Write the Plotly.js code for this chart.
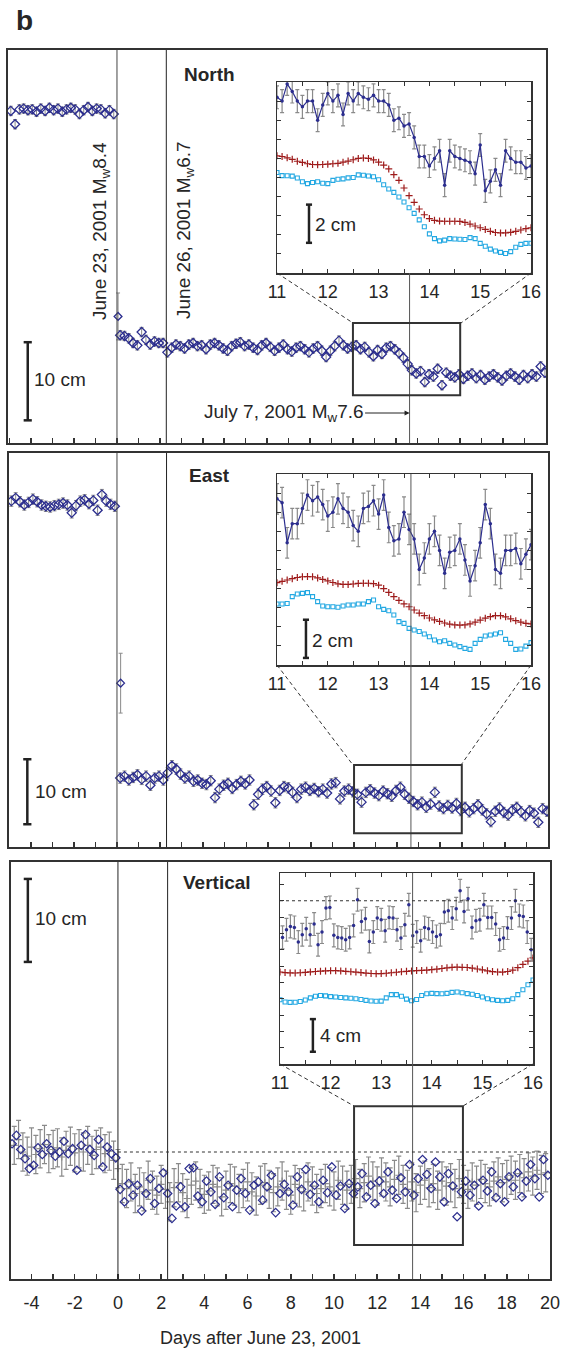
<!DOCTYPE html>
<html><head><meta charset="utf-8">
<script src="https://cdn.plot.ly/plotly-3.0.1.min.js"></script>
<style>body{margin:0;background:#fff}#chart{width:564px;height:1350px}</style>
</head><body><div id="chart"></div>
<script>
// ---------------- DATA (cm; days after June 23, 2001) ----------------
// Main series, sampled every 0.2 day
const northPreX0 = -4.95;
const northPre = [0.1,-1.6,0.3,0.4,0.2,0.3,0.0,0.4,0.1,0.5,0.2,0.4,0.0,0.3,0.5,0.3,-0.3,0.2,0.6,0.1,0.4,0.3,-0.2,0.2,-0.3];
const northJump = {x:0.05, y:-26.2, err:3.0};
const northPostX0 = 0.15;
const northPost = [-28.6,-28.7,-29.0,-29.6,-29.9,-28.2,-29.2,-29.8,-29.4,-29.6,
 -29.6,-30.8,-30.2,-29.8,-30.0,-30.3,-29.8,-29.6,-30.0,-29.9,
 -30.4,-29.8,-29.6,-29.9,-30.3,-30.6,-30.0,-29.7,-29.5,-30.0,
 -29.8,-30.2,-30.5,-29.9,-29.6,-30.1,-30.6,-30.2,-29.8,-30.4,
 -30.7,-30.2,-30.0,-30.4,-30.8,-30.3,-30.0,-30.6,-31.4,-30.6,
 -30.0,-29.3,-29.9,-30.3,-30.1,-29.9,-30.4,-30.1,-30.8,-31.3,
 -30.5,-31.0,-30.2,-30.0,-30.4,-30.9,-31.5,-32.3,-33.1,-33.5,
 -33.2,-34.6,-33.6,-33.9,-32.9,-35.0,-33.4,-33.8,-34.0,-33.6,
 -34.2,-33.8,-33.5,-34.1,-33.7,-34.3,-33.9,-33.6,-34.0,-34.4,
 -33.8,-33.5,-33.9,-34.3,-33.7,-34.1,-33.6,-33.9,-32.6,-33.4];
const northSigma = 0.6;

const eastPreX0 = -4.9;
const eastPre = [0.3,0.8,0.2,-0.3,0.1,0.6,0.2,-0.3,-0.5,-0.6,-0.4,-0.2,0.0,-0.3,-1.5,-0.4,0.3,0.5,-0.1,0.4,-1.1,1.3,0.3,-0.2,-0.5];
const eastJump = {x:0.17, y:-27.7, err:4.6};
const eastPostX0 = 0.15;
const eastPost = [-42.3,-42.0,-42.6,-42.2,-41.8,-42.5,-42.0,-43.4,-42.3,-42.0,
 -42.6,-41.5,-40.4,-40.9,-41.7,-42.3,-42.0,-42.8,-42.6,-43.1,
 -43.3,-42.7,-45.3,-44.0,-43.4,-43.1,-43.9,-43.3,-42.8,-43.2,
 -42.6,-46.4,-44.8,-44.0,-43.6,-44.3,-46.1,-44.2,-43.6,-43.8,
 -44.5,-45.3,-44.0,-43.7,-44.2,-43.9,-44.4,-44.0,-44.6,-43.2,
 -43.0,-45.5,-44.3,-44.0,-44.4,-44.8,-46.0,-44.5,-44.1,-44.6,
 -45.0,-44.3,-44.7,-45.1,-44.2,-43.7,-44.8,-45.4,-45.9,-46.4,
 -46.0,-46.8,-46.3,-44.5,-46.6,-47.0,-46.5,-46.9,-46.2,-47.3,
 -46.8,-47.5,-47.0,-46.4,-47.2,-47.8,-49.0,-47.4,-46.9,-47.6,
 -48.0,-47.2,-46.8,-47.5,-48.1,-47.3,-47.7,-49.1,-47.0,-47.4];
const eastSigma = 0.8;

const vertBlueX0 = -4.9;
const vertBlue = [1.0,2.0,0.3,-0.8,-2.0,-1.6,0.5,-0.3,1.0,0.2,-0.5,0.0,1.3,-0.2,0.4,-2.2,0.8,2.1,0.3,-0.4,1.5,-1.8,0.6,-0.2,-0.7,
 -4.5,-6.0,-3.8,-5.2,-4.0,-7.1,-5.0,-3.2,-6.2,-4.4,
 -2.5,-5.0,-8.0,-6.5,-4.2,-6.6,-2.0,-1.9,-5.3,-6.0,
 -3.5,-4.8,-6.3,-3.0,-5.5,-4.0,-6.6,-4.6,-3.2,-5.0,
 -7.0,-4.0,-3.6,-5.8,-4.2,-2.8,-7.3,-5.0,-3.9,-4.8,
 -6.4,-3.0,-4.5,-2.1,-5.1,-4.0,-6.0,-3.4,-4.9,-1.8,
 -5.2,-4.1,-6.8,-3.8,-5.0,-4.2,-2.6,-5.4,-4.0,-6.2,
 -3.5,-5.0,-2.4,-4.6,-5.6,-3.1,-4.8,-1.5,-5.2,-3.2,
 -0.9,-2.7,-4.4,-1.2,-3.0,-6.0,-2.6,-4.1,-7.8,-4.8,
 -3.5,-5.2,-4.0,-6.5,-3.4,-4.7,-2.4,-5.5,-3.8,-6.0,
 -3.0,-4.2,-2.5,-5.4,-3.5,-1.5,-3.2,-5.4,-0.9,-2.8];
const vertGreyX0 = -4.8;
const vertGrey = [0.8,1.5,0.0,-0.5,0.6,-0.3,0.4,0.9,-0.2,0.3,0.5,-0.6,0.2,0.7,-0.1,0.4,0.0,0.8,-0.4,0.3,0.6,-0.2,0.1,-1.0,
 -2.0,
 -3.8,-4.4,-3.6,-5.0,-4.2,-4.8,-3.4,-4.6,-5.2,-3.9,
 -4.5,-6.0,-4.3,-3.7,-4.9,-5.6,-4.0,-3.5,-4.4,-5.1,
 -4.7,-3.9,-4.2,-5.4,-4.6,-3.8,-4.1,-5.0,-4.4,-3.6,
 -4.8,-5.3,-4.0,-3.7,-4.5,-4.9,-4.2,-3.5,-4.6,-5.2,
 -3.9,-4.3,-4.8,-3.6,-4.1,-5.0,-4.4,-3.8,-4.2,-4.7,
 -3.4,-4.0,-4.6,-3.9,-3.2,-4.4,-3.7,-2.9,-3.5,-4.1,
 -3.0,-3.6,-4.2,-3.3,-2.8,-3.9,-4.5,-3.6,-4.9,-4.0,
 -3.4,-4.3,-3.8,-4.6,-3.5,-4.1,-3.7,-4.4,-3.2,-3.9,
 -4.5,-3.6,-4.0,-3.3,-3.8,-4.2,-3.5,-3.0,-3.7,-3.3,
 -2.8,-3.4,-2.6,-3.1,-2.4,-2.9,-2.2,-2.7,-2.5];
const vertSigma = 2.3;

// Insets (days 11-16, every 0.1 day; cm above inset bottom)
const insetX0 = 11.0;
const northInsetBlue = [9.2,9.0,9.9,9.5,9.0,8.7,9.0,9.0,8.0,8.8,
 9.4,9.0,9.3,8.3,9.4,9.0,9.4,9.2,9.1,9.3,
 9.0,9.0,8.8,8.0,8.1,7.7,7.8,7.1,6.1,6.1,
 5.6,6.0,6.4,4.6,6.4,6.1,6.0,5.9,5.8,5.2,
 6.7,4.3,4.8,5.4,4.6,6.4,6.0,5.8,5.8,5.5,5.6];
const northInsetRed = [6.14,6.10,6.03,5.95,5.85,5.79,5.72,5.68,5.67,5.68,
 5.70,5.72,5.74,5.80,5.86,5.93,6.00,6.02,6.00,5.92,
 5.80,5.65,5.45,5.15,4.85,4.45,4.05,3.70,3.35,3.05,
 2.85,2.76,2.72,2.71,2.71,2.71,2.70,2.65,2.56,2.46,
 2.37,2.28,2.18,2.12,2.10,2.10,2.13,2.18,2.25,2.32,2.37];
const northInsetCyan = [5.26,5.10,5.09,5.07,4.97,4.78,4.68,4.74,4.78,4.70,
 4.68,4.85,4.91,4.93,4.98,5.00,5.14,5.12,5.08,5.04,
 4.88,4.62,4.40,4.22,3.98,3.72,3.42,3.12,2.78,2.42,
 2.05,1.80,1.68,1.72,1.80,1.78,1.77,1.75,1.85,1.80,
 1.55,1.40,1.25,1.15,1.08,1.02,1.12,1.35,1.50,1.55,1.56];

const eastInsetBlue = [8.7,8.5,6.4,7.4,7.4,8.2,8.9,8.6,8.8,8.4,
 7.8,8.0,8.7,8.2,8.0,7.3,7.0,8.2,8.3,8.6,
 7.9,8.9,7.2,6.5,6.6,8.0,7.1,6.6,5.0,5.6,
 6.6,7.0,6.0,4.8,5.9,6.0,6.6,5.5,4.4,5.2,
 6.4,8.4,7.4,5.0,4.8,6.0,6.0,6.1,5.3,5.8,6.3];
const eastInsetRed = [4.31,4.38,4.45,4.52,4.58,4.62,4.63,4.62,4.56,4.48,
 4.40,4.32,4.25,4.22,4.22,4.24,4.27,4.28,4.28,4.26,
 4.18,4.00,3.80,3.58,3.38,3.20,3.05,2.88,2.72,2.58,
 2.46,2.36,2.28,2.20,2.14,2.10,2.09,2.10,2.15,2.24,
 2.35,2.45,2.53,2.58,2.58,2.52,2.42,2.32,2.24,2.18,2.15];
const eastInsetCyan = [3.19,3.19,3.22,3.58,3.72,3.75,3.79,3.58,3.32,3.09,
 3.05,3.05,3.02,3.09,3.14,3.14,3.19,3.19,3.32,3.40,
 3.05,2.91,2.84,2.62,2.27,2.18,1.92,1.83,1.75,1.62,
 1.48,1.31,1.22,1.27,1.13,1.05,0.96,0.87,0.82,1.13,
 1.34,1.52,1.57,1.62,1.69,1.34,1.13,0.82,0.84,0.99,1.17];

const vertInsetX0 = 11.05, vertInsetDx = 0.078;
const vertInsetBlue = [15.51,16.45,16.86,16.73,14.94,15.84,16.57,15.84,17.14,14.61,
 16.16,19.10,19.18,15.76,15.51,15.43,15.22,15.51,16.98,20.12,
 17.47,17.80,15.02,16.16,17.88,17.67,16.33,17.96,17.88,16.45,
 15.43,17.06,19.51,15.71,16.16,15.10,16.73,16.57,16.16,15.63,
 15.84,18.61,18.78,17.88,19.02,21.22,18.69,20.24,16.73,17.55,
 17.67,19.51,17.96,17.96,17.14,15.22,15.43,16.65,17.88,20.0,
 18.20,18.08,16.16,14.0];
const vertInsetRed = [11.27,11.2,11.16,11.15,11.18,11.22,11.28,11.33,11.37,11.4,
 11.43,11.43,11.4,11.35,11.3,11.26,11.2,11.14,11.09,11.06,
 11.08,11.12,11.18,11.24,11.3,11.35,11.4,11.44,11.47,11.5,
 11.55,11.62,11.7,11.78,11.84,11.86,11.85,11.82,11.74,11.64,
 11.54,11.42,11.32,11.27,11.26,11.33,11.5,11.8,12.2,12.6,13.0];
const vertInsetCyan = [7.88,7.6,7.55,7.56,7.65,7.85,8.1,8.3,8.4,8.35,
 8.25,8.2,8.15,8.1,8.05,8.0,7.9,7.8,7.72,7.68,
 7.7,8.1,8.5,8.5,8.3,7.95,7.75,7.9,8.4,8.6,
 8.65,8.62,8.6,8.65,8.78,8.82,8.72,8.62,8.55,8.4,
 8.2,8.0,7.88,7.8,7.75,7.8,8.0,8.5,9.1,9.7,10.3];
const northInsetSigma = 0.6, eastInsetSigma = 0.8, vertInsetSigma = 1.4;

const quakeDays = {june23:0, june26:2.3, july7:13.64};
const xTickVals = [-4,-2,0,2,4,6,8,10,12,14,16,18,20];
const xTickText = ['-4','-2','0','2','4','6','8','10','12','14','16','18','20'];
const insetTickVals = [11,12,13,14,15,16];
const insetTickText = ['11','12','13','14','15','16'];

// ---------------- STYLE ----------------
const FONT = 'Liberation Sans, Arial, Helvetica, sans-serif';
const BLUE = '#2b2d8e', GREY = '#8a8a8a', RED = '#9e1b1b', CYAN = '#23a8e2', INK = '#262626';
const W = 564, H = 1350;
const X = px => px / W, Y = py => 1 - py / H;
const TS = 19; // annotation text size

function mainPts(x0, ys, sig, xa, ya) {
  return {type:'scatter', mode:'markers', x0:x0, dx:0.2, y:ys, xaxis:xa, yaxis:ya,
    marker:{symbol:'diamond-open', size:7, color:BLUE, line:{width:1.3, color:BLUE}},
    error_y:{type:'constant', value:sig, color:GREY, thickness:1, width:2}};
}
function jumpPt(p, xa, ya) {
  return {type:'scatter', mode:'markers', x:[p.x], y:[p.y], xaxis:xa, yaxis:ya,
    marker:{symbol:'diamond-open', size:6, color:BLUE, line:{width:1.3, color:BLUE}},
    error_y:{type:'constant', value:p.err, color:GREY, thickness:1, width:2}};
}
function insetBlue(ys, sig, xa, ya, withLine, x0, dx) {
  return {type:'scatter', mode: withLine ? 'lines+markers' : 'markers', x0:x0, dx:dx, y:ys, xaxis:xa, yaxis:ya,
    line:{color:BLUE, width:1.2}, marker:{symbol:'circle', size:3.5, color:BLUE},
    error_y:{type:'constant', value:sig, color:GREY, thickness:1.2, width:2}};
}
function insetRed(ys, xa, ya) {
  return {type:'scatter', mode:'markers', x0:insetX0, dx:0.1, y:ys, xaxis:xa, yaxis:ya,
    marker:{symbol:'cross-thin-open', size:5, color:RED, line:{width:1.2, color:RED}}};
}
function insetCyan(ys, xa, ya) {
  return {type:'scatter', mode:'markers', x0:insetX0, dx:0.1, y:ys, xaxis:xa, yaxis:ya,
    marker:{symbol:'square-open', size:4, color:CYAN, line:{width:1.1, color:CYAN}}};
}

const traces = [
  mainPts(northPreX0, northPre, northSigma, 'x', 'y'),
  jumpPt(northJump, 'x', 'y'),
  mainPts(northPostX0, northPost, northSigma, 'x', 'y'),
  mainPts(eastPreX0, eastPre, eastSigma, 'x2', 'y2'),
  jumpPt(eastJump, 'x2', 'y2'),
  mainPts(eastPostX0, eastPost, eastSigma, 'x2', 'y2'),
  {type:'scatter', mode:'markers', x0:vertGreyX0, dx:0.2, y:vertGrey, xaxis:'x3', yaxis:'y3',
    marker:{symbol:'cross-thin-open', size:5, color:GREY, line:{width:1.2, color:GREY}},
    error_y:{type:'constant', value:vertSigma, color:GREY, thickness:1.2, width:2.5}},
  {type:'scatter', mode:'markers', x0:vertBlueX0, dx:0.2, y:vertBlue, xaxis:'x3', yaxis:'y3',
    marker:{symbol:'diamond-open', size:6.5, color:BLUE, line:{width:1.2, color:BLUE}}},
  insetRed(northInsetRed, 'x4', 'y4'), insetCyan(northInsetCyan, 'x4', 'y4'),
  insetBlue(northInsetBlue, northInsetSigma, 'x4', 'y4', true, insetX0, 0.1),
  insetRed(eastInsetRed, 'x5', 'y5'), insetCyan(eastInsetCyan, 'x5', 'y5'),
  insetBlue(eastInsetBlue, eastInsetSigma, 'x5', 'y5', true, insetX0, 0.1),
  insetRed(vertInsetRed, 'x6', 'y6'), insetCyan(vertInsetCyan, 'x6', 'y6'),
  insetBlue(vertInsetBlue, vertInsetSigma, 'x6', 'y6', false, vertInsetX0, vertInsetDx)
];

function mainX(dom, range, anchor, labels) {
  return {domain:dom, range:range, anchor:anchor, showline:true, linecolor:'#333', linewidth:2, mirror:true,
    ticks:'inside', ticklen:5, tickwidth:1.5, tickcolor:'#333', tickmode:'array', tickvals:xTickVals, ticktext:xTickText,
    minor:{tickmode:'linear', tick0:0, dtick:1, ticks:'inside', ticklen:5, tickwidth:1.5, tickcolor:'#333'},
    showticklabels:labels, tickfont:{family:FONT, size:18, color:INK}, ticklabelstandoff:6,
    showgrid:false, zeroline:false};
}
function mainY(dom, range, anchor) {
  return {domain:dom, range:range, anchor:anchor, showline:true, linecolor:'#333', linewidth:2, mirror:true,
    ticks:'', showticklabels:false, showgrid:false, zeroline:false};
}
function insetX(dom, anchor) {
  return {domain:dom, range:[11,16], anchor:anchor, showline:true, linecolor:'#333', linewidth:1.5, mirror:'ticks',
    ticks:'inside', ticklen:4, tickcolor:'#333', tickmode:'array', tickvals:insetTickVals, ticktext:insetTickText,
    minor:{tickmode:'linear', tick0:11, dtick:0.5, ticks:'inside', ticklen:4, tickcolor:'#333'},
    tickfont:{family:FONT, size:18, color:INK}, ticklabelstandoff:2, showgrid:false, zeroline:false};
}
function insetY(dom, range, dtick, anchor) {
  return {domain:dom, range:range, anchor:anchor, showline:true, linecolor:'#333', linewidth:1.5, mirror:'ticks',
    ticks:'inside', ticklen:4, tickcolor:'#333', dtick:dtick, tick0:0, showticklabels:false, showgrid:false, zeroline:false};
}

const layout = {
  width:W, height:H, margin:{l:0, r:0, t:0, b:0}, paper_bgcolor:'#fff', plot_bgcolor:'rgba(0,0,0,0)',
  showlegend:false, font:{family:FONT, color:INK},
  xaxis: mainX([X(8), X(546)], [-5.08, 20.0], 'y', false),
  yaxis: mainY([Y(443), Y(50)], [-42.4, 7.9], 'x'),
  xaxis2: mainX([X(9), X(548)], [-5.01, 20.0], 'y2', false),
  yaxis2: mainY([Y(847), Y(453)], [-52.9, 7.7], 'x2'),
  xaxis3: mainX([X(11), X(550)], [-4.95, 20.0], 'y3', true),
  yaxis3: mainY([Y(1279), Y(862)], [-15.3, 34.94], 'x3'),
  xaxis4: insetX([X(277), X(531)], 'y4'),
  yaxis4: insetY([Y(273), Y(82)], [0, 10], 1, 'x4'),
  xaxis5: insetX([X(277), X(531)], 'y5'),
  yaxis5: insetY([Y(665), Y(474)], [0, 10], 1, 'x5'),
  xaxis6: insetX([X(280), X(533)], 'y6'),
  yaxis6: insetY([Y(1064), Y(873)], [0, 23.4], 2, 'x6'),
  shapes: [], annotations: []
};

const S = layout.shapes, A = layout.annotations;
function seg(xref, yref, x0, y0, x1, y1, color, width, dash) {
  S.push({type:'line', xref:xref, yref:yref, x0:x0, y0:y0, x1:x1, y1:y1, line:{color:color, width:width, dash:dash||'solid'}});
}
function rect(xref, yref, x0, y0, x1, y1) {
  S.push({type:'rect', xref:xref, yref:yref, x0:x0, y0:y0, x1:x1, y1:y1, line:{color:'#333', width:2}});
}
function bar(xref, yref, x, y0, y1, cap, w) {
  seg(xref, yref, x, y0, x, y1, '#222', w);
  seg(xref, yref, x-cap, y0, x+cap, y0, '#222', w);
  seg(xref, yref, x-cap, y1, x+cap, y1, '#222', w);
}
function txt(px, py, text, size, opts) {
  A.push(Object.assign({xref:'paper', yref:'paper', x:X(px), y:Y(py), text:text, showarrow:false,
    xanchor:'center', yanchor:'middle', font:{family:FONT, size:size, color:INK}}, opts||{}));
}

// North
seg('x', 'y domain', quakeDays.june23, 0, quakeDays.june23, 1, '#444', 1);
seg('x', 'y domain', quakeDays.june26, 0, quakeDays.june26, 1, '#222', 1);
seg('x', 'paper', quakeDays.july7, Y(443), quakeDays.july7, Y(273), '#555', 1);
rect('x', 'y', 11, -27.05, 16, -36.3);
bar('x', 'y', -4.16, -29.5, -39.5, 0.19, 2.5);
seg('paper', 'paper', X(277), Y(273), X(353), Y(323), '#333', 1, '4px,3px');
seg('paper', 'paper', X(531), Y(273), X(461), Y(323), '#333', 1, '4px,3px');
bar('x4', 'y4', 11.63, 1.58, 3.58, 0.06, 2.5);
// East
seg('x2', 'y2 domain', quakeDays.june23, 0, quakeDays.june23, 1, '#444', 1);
seg('x2', 'y2 domain', quakeDays.june26, 0, quakeDays.june26, 1, '#222', 1);
seg('x2', 'paper', quakeDays.july7, Y(847), quakeDays.july7, Y(474), '#555', 1);
rect('x2', 'y2', 11, -40.3, 16, -50.8);
bar('x2', 'y2', -4.16, -39.4, -49.4, 0.19, 2.5);
seg('paper', 'paper', X(277), Y(665), X(353), Y(765), '#333', 1, '4px,3px');
seg('paper', 'paper', X(531), Y(665), X(461), Y(765), '#333', 1, '4px,3px');
bar('x5', 'y5', 11.57, 0.37, 2.37, 0.06, 2.5);
// Vertical
seg('x3', 'y3 domain', quakeDays.june23, 0, quakeDays.june23, 1, '#222', 1);
seg('x3', 'y3 domain', quakeDays.june26, 0, quakeDays.june26, 1, '#222', 1);
seg('x3', 'paper', quakeDays.july7, Y(1279), quakeDays.july7, Y(873), '#555', 1);
seg('x3', 'y3', 0, 0, 20, 0, '#333', 1, 'dot');
rect('x3', 'y3', 10.93, 5.5, 15.97, -11.2);
bar('x3', 'y3', -4.17, 32.9, 22.9, 0.19, 2.5);
seg('paper', 'paper', X(280), Y(1064), X(354), Y(1106), '#333', 1, '4px,3px');
seg('paper', 'paper', X(533), Y(1064), X(463), Y(1106), '#333', 1, '4px,3px');
seg('x6 domain', 'y6', 0, 20, 1, 20, '#333', 1, 'dot');
bar('x6', 'y6', 11.65, 1.5, 5.5, 0.06, 2.5);

// Texts
txt(24, 21, '<b>b</b>', 28);
txt(209, 74, '<b>North</b>', TS);
txt(209, 475, '<b>East</b>', TS);
txt(217, 882, '<b>Vertical</b>', TS);
txt(101, 231, 'June 23, 2001 M<sub>w</sub>8.4', TS, {textangle:-90});
txt(185, 230, 'June 26, 2001 M<sub>w</sub>6.7', TS, {textangle:-90});
txt(32, 380, '10 cm', TS, {xanchor:'left'});
txt(33, 791, '10 cm', TS, {xanchor:'left'});
txt(33, 918, '10 cm', TS, {xanchor:'left'});
txt(313, 224, '2 cm', TS, {xanchor:'left'});
txt(310, 640, '2 cm', TS, {xanchor:'left'});
txt(318, 1035, '4 cm', TS, {xanchor:'left'});
txt(260, 1338, 'Days after June 23, 2001', 18);
A.push({xref:'x', yref:'paper', x:quakeDays.july7, y:Y(413), ax:-126, ay:0, axref:'pixel', ayref:'pixel',
  text:'July 7, 2001 M<sub>w</sub>7.6', showarrow:true, arrowhead:2, arrowsize:1, arrowwidth:1, arrowcolor:'#222',
  standoff:0, font:{family:FONT, size:TS, color:INK}});

Plotly.newPlot('chart', traces, layout, {staticPlot:true, displayModeBar:false});
</script></body></html>
